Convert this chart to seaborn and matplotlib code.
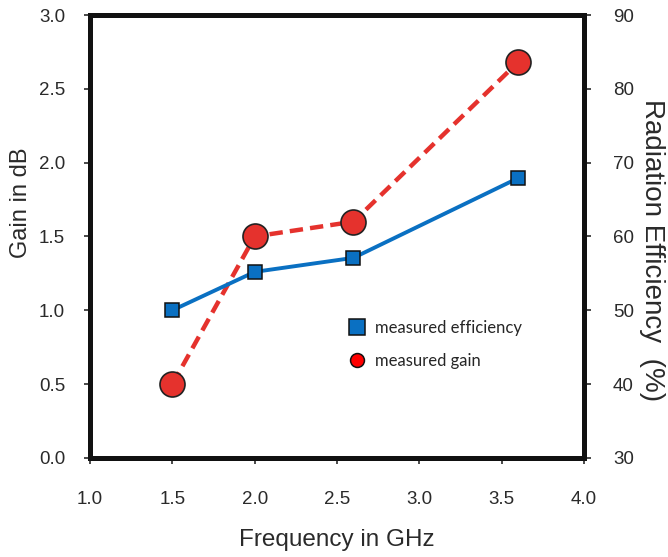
import numpy as np
import pandas as pd
import matplotlib
matplotlib.use('Agg')
import matplotlib.pyplot as plt
import seaborn as sns
from matplotlib.lines import Line2D

# ── data ─────────────────────────────────────────
freq_ghz = [1.5, 2.0, 2.6, 3.6]
gain_db = [0.5, 1.5, 1.6, 2.68]
efficiency_pct = [50.0, 55.2, 57.1, 67.9]

x_ticks = [1.0, 1.5, 2.0, 2.5, 3.0, 3.5, 4.0]
gain_ticks = [0.0, 0.5, 1.0, 1.5, 2.0, 2.5, 3.0]
eff_ticks = [30, 40, 50, 60, 70, 80, 90]

df = pd.DataFrame({'freq': freq_ghz, 'gain': gain_db, 'eff': efficiency_pct})

# ── style ────────────────────────────────────────
sns.set_style('white')
plt.rcParams['font.family'] = ['Liberation Sans', 'DejaVu Sans']

RED = '#e5322d'
BLUE = '#0a70c2'
TXT = '#2a2a2a'

fig = plt.figure(figsize=(6.68, 5.57), dpi=100)
ax = fig.add_axes([0.135, 0.178, 0.739, 0.795])
ax2 = ax.twinx()

# gain (left axis)
sns.lineplot(data=df, x='freq', y='gain', ax=ax, color=RED, linewidth=3.2,
             linestyle=(0, (3, 1.6)), marker='o', markersize=18,
             markerfacecolor=RED, markeredgecolor='#222222', markeredgewidth=1.2,
             zorder=3)

# efficiency (right axis)
sns.lineplot(data=df, x='freq', y='eff', ax=ax2, color=BLUE, linewidth=2.8,
             marker='s', markersize=10, markerfacecolor=BLUE,
             markeredgecolor='#111111', markeredgewidth=1.1, zorder=3)

ax.set_xlim(1.0, 4.0)
ax.set_ylim(0.0, 3.0)
ax2.set_ylim(30, 90)
ax.set_xticks(x_ticks)
ax.set_xticklabels([f'{t:.1f}' for t in x_ticks])
ax.set_yticks(gain_ticks)
ax.set_yticklabels([f'{t:.1f}' for t in gain_ticks])
ax2.set_yticks(eff_ticks)

ax.set_xlabel('Frequency in GHz', fontsize=17.5, color=TXT, labelpad=15)
ax.set_ylabel('Gain in dB', fontsize=17, color=TXT)
ax.yaxis.set_label_coords(-0.118, 0.575)
ax2.set_ylabel('Radiation Efficiency  (%)', fontsize=20, color=TXT,
               rotation=270, va='center')
ax2.yaxis.set_label_coords(1.138, 0.47)

for a in (ax, ax2):
    for sp in a.spines.values():
        sp.set_linewidth(3.6)
        sp.set_color('#111111')
    a.tick_params(labelsize=13.5, colors=TXT, length=4, width=1.2,
                  direction='out')
ax.tick_params(axis='y', left=True, right=False, pad=14)
ax.tick_params(axis='x', bottom=True, pad=20)
ax2.tick_params(axis='y', right=True, length=5, pad=16)
ax2.spines['left'].set_visible(False)
ax.grid(False)
ax2.grid(False)

# legend (markers only)
handles = [
    Line2D([], [], linestyle='none', marker='s', markersize=11,
           markerfacecolor=BLUE, markeredgecolor='#111111', markeredgewidth=1.1),
    Line2D([], [], linestyle='none', marker='o', markersize=10,
           markerfacecolor='#ff0000', markeredgecolor='#111111', markeredgewidth=1.1),
]
ax2.legend(handles, ['measured efficiency', 'measured gain'],
           loc='upper left', bbox_to_anchor=(0.49, 0.345), frameon=False,
           prop={'family': 'Lato', 'size': 12}, handletextpad=0.5,
           handlelength=1.2, labelspacing=1.0)

fig.savefig('out.png', dpi=100, facecolor='white')
